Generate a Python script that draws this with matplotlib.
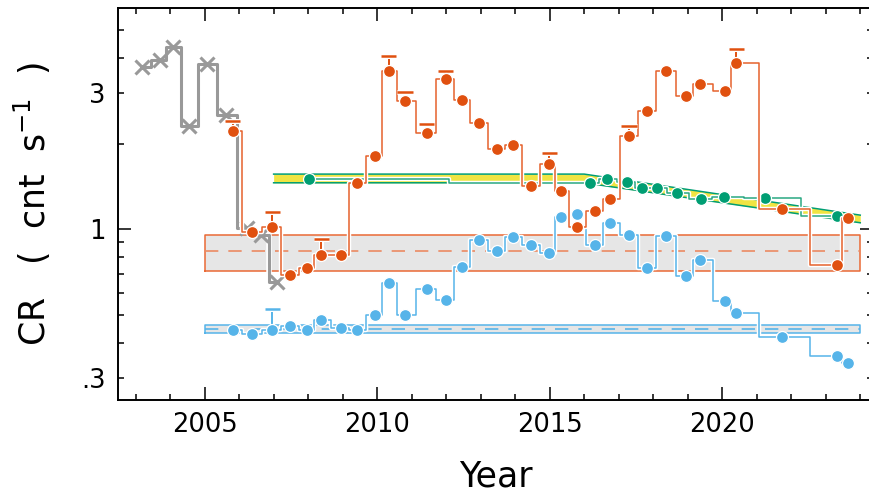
import matplotlib
matplotlib.use('Agg')
import matplotlib.pyplot as plt
import matplotlib.patheffects as pe
from matplotlib.ticker import FixedLocator, FuncFormatter

# ---------------- data ----------------
gray_year = [2003.18, 2003.71, 2004.08, 2004.56, 2005.08, 2005.62, 2006.23, 2006.63, 2007.09]
gray_cr = [3.72, 3.93, 4.38, 2.30, 3.80, 2.52, 1.01, 0.955, 0.655]

obs_year = [2005.81, 2006.36, 2006.96, 2007.47, 2007.98, 2008.38, 2008.96, 2009.41, 2009.95,
            2010.33, 2010.81, 2011.44, 2011.99, 2012.47, 2012.94, 2013.47, 2013.95, 2014.47,
            2014.99, 2015.34, 2015.80, 2016.32, 2016.76, 2017.30, 2017.81, 2018.36, 2018.96,
            2019.36, 2020.08, 2020.41, 2021.74, 2023.32, 2023.64]
orange_cr = [2.21, 0.978, 1.019, 0.690, 0.732, 0.811, 0.811, 1.454, 1.814,
             3.59, 2.82, 2.17, 3.37, 2.85, 2.36, 1.92, 1.98, 1.419,
             1.70, 1.36, 1.019, 1.159, 1.277, 2.13, 2.61, 3.60, 2.94,
             3.23, 3.07, 3.82, 1.175, 0.748, 1.099]
# upper end of error bar (0 = none)
orange_hi = [2.40, 0, 1.147, 0, 0, 0.925, 0, 0, 0,
             4.06, 3.03, 2.35, 3.59, 0, 0, 0, 0, 0,
             1.86, 0, 0, 0, 0, 2.30, 0, 0, 0,
             0, 0, 4.31, 0, 0, 0]
blue_cr = [0.442, 0.431, 0.442, 0.460, 0.442, 0.482, 0.450, 0.442, 0.500,
           0.650, 0.500, 0.619, 0.564, 0.740, 0.920, 0.839, 0.940, 0.879,
           0.828, 1.106, 1.129, 0.880, 1.056, 0.959, 0.730, 0.950, 0.688,
           0.778, 0.560, 0.510, 0.420, 0.361, 0.340]
blue_hi = [0, 0, 0.525] + [0] * 30

green_year = [2008.03, 2016.16, 2016.67, 2017.23, 2017.69, 2018.12, 2018.68, 2019.38,
              2020.04, 2021.24, 2023.32]
green_cr = [1.506, 1.450, 1.506, 1.466, 1.396, 1.399, 1.345, 1.276, 1.295, 1.288, 1.118]

band_year = [2005.0, 2024.0]
orange_band = [0.716, 0.842, 0.958]   # low, mid, high
blue_band = [0.434, 0.448, 0.463]

green_band_year = [2007.0, 2016.0, 2024.0]
green_band_lo = [1.457, 1.457, 1.055]
green_band_hi = [1.563, 1.563, 1.122]

xmajor = [2005, 2010, 2015, 2020]
xminor = [y for y in range(2003, 2025) if y not in xmajor]
ymajor = [1]
yminor = [0.3, 0.4, 0.5, 0.6, 0.7, 0.8, 0.9, 2, 3, 4, 5]
ylabels = {0.3: '.3', 1.0: '1', 3.0: '3'}

# ---------------- colours ----------------
c_or = '#e0500f'
c_orl = '#e6622c'
c_bl = '#56b4e9'
c_gr = '#009e73'
c_ye = '#f0e442'
c_gy = '#999999'

plt.rcParams['font.family'] = ['DejaVu Sans']


def halo(w):
    return [pe.Stroke(linewidth=w, foreground='white'), pe.Normal()]


fig = plt.figure(figsize=(8.7, 4.97), dpi=100)
# right spine sits just outside the picture, as in the reference
ax = fig.add_axes([118 / 870, 97 / 497, 755 / 870, 392 / 497])
ax.set_yscale('log')
ax.set_xlim(2002.49, 2024.37)
ax.set_ylim(0.252, 5.98)

# bands
for band, ec, dc in [(orange_band, '#ea6a35', '#ec8a62'), (blue_band, c_bl, c_bl)]:
    x0, x1 = band_year
    lo, mid, hi = band
    ax.fill_between(band_year, [lo, lo], [hi, hi], color='#e6e6e6', lw=0, zorder=1)
    ax.plot([x0, x1, x1, x0, x0], [lo, lo, hi, hi, lo], color=ec, lw=1.1, zorder=1.2)
    ax.plot(band_year, [mid, mid], color=dc, lw=1.2, ls=(0, (8, 6)), zorder=1.2)

ax.fill_between(green_band_year, green_band_lo, green_band_hi, color=c_ye, lw=0, zorder=2)
ax.plot(green_band_year, green_band_lo, color=c_gr, lw=1.1, zorder=2.1)
ax.plot(green_band_year, green_band_hi, color=c_gr, lw=1.1, zorder=2.1)

# gray crosses
ax.plot(gray_year, gray_cr, drawstyle='steps-mid', color=c_gy, lw=2.2, zorder=3,
        path_effects=halo(4.0))
ax.plot(gray_year, gray_cr, ls='none', marker='x', ms=10, mew=2.2, color=c_gy, zorder=3.1)


def series(ys, hi, color, lcolor, z):
    ax.plot(obs_year, ys, drawstyle='steps-mid', color=lcolor, lw=1.1, zorder=z,
            path_effects=halo(3.2))
    for x, y, h in zip(obs_year, ys, hi):
        if h > 0:
            ax.plot([x, x], [y, h], color=color, lw=1.4, zorder=z, path_effects=halo(3.6))
            ax.plot([x], [h], marker='_', ms=11, mew=1.8, color=color, zorder=z,
                    path_effects=halo(3.6))
    ax.plot(obs_year, ys, ls='none', marker='o', ms=8.6, mfc=color, mec='white', mew=0.9,
            zorder=z + 0.1)


series(blue_cr, blue_hi, c_bl, c_bl, 4)

ax.plot(green_year, green_cr, drawstyle='steps-mid', color='#2aa882', lw=1.1, zorder=5,
        path_effects=halo(3.2))
ax.plot(green_year, green_cr, ls='none', marker='o', ms=8.6, mfc=c_gr, mec='white', mew=0.9,
        zorder=5.1)

series(orange_cr, orange_hi, c_or, c_orl, 6)

# axes cosmetics
ax.xaxis.set_major_locator(FixedLocator(xmajor))
ax.xaxis.set_minor_locator(FixedLocator(xminor))
ax.yaxis.set_major_locator(FixedLocator(ymajor))
ax.yaxis.set_minor_locator(FixedLocator(yminor))
fmt = FuncFormatter(lambda v, p: ylabels.get(round(v, 2), ''))
ax.yaxis.set_major_formatter(fmt)
ax.yaxis.set_minor_formatter(fmt)

ax.tick_params(which='both', direction='in', top=True, right=True, width=1.1,
               labelsize=18.5, pad=9)
ax.tick_params(which='major', length=9.5)
ax.tick_params(which='minor', length=4.5)
for s in ax.spines.values():
    s.set_linewidth(1.4)

ax.set_xlabel('Year', fontsize=25, labelpad=15)
ax.set_ylabel('CR   (  cnt  s$^{-1}$  )', fontsize=25, labelpad=20)

fig.savefig('out.png', dpi=100)
